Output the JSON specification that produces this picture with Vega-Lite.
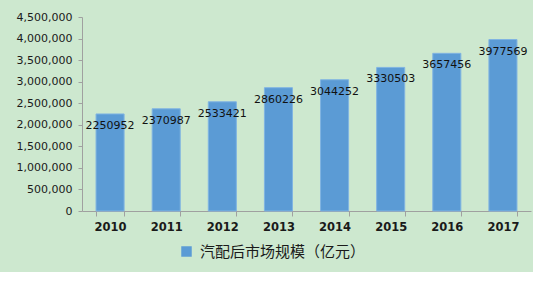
{
  "$schema": "https://vega.github.io/schema/vega-lite/v6.json",
  "autosize": {"type": "none"},
  "width": 449,
  "height": 194,
  "padding": {"left": 82, "top": 17, "right": 2, "bottom": 61},
  "background": "#CDE8CF",
  "config": {
    "view": {"stroke": null},
    "font": "DejaVu Sans"
  },
  "data": {
    "values": [
      {"year": "2010", "value": 2250952, "series": "汽配后市场规模（亿元）"},
      {"year": "2011", "value": 2370987, "series": "汽配后市场规模（亿元）"},
      {"year": "2012", "value": 2533421, "series": "汽配后市场规模（亿元）"},
      {"year": "2013", "value": 2860226, "series": "汽配后市场规模（亿元）"},
      {"year": "2014", "value": 3044252, "series": "汽配后市场规模（亿元）"},
      {"year": "2015", "value": 3330503, "series": "汽配后市场规模（亿元）"},
      {"year": "2016", "value": 3657456, "series": "汽配后市场规模（亿元）"},
      {"year": "2017", "value": 3977569, "series": "汽配后市场规模（亿元）"}
    ]
  },
  "encoding": {
    "x": {
      "field": "year", "type": "ordinal",
      "scale": {"paddingInner": 0.5, "paddingOuter": 0.25},
      "axis": {
        "title": null, "labelAngle": 0, "tickBand": "extent",
        "domainColor": "#A0A0A0", "tickColor": "#A0A0A0", "tickSize": 5,
        "labelFont": "DejaVu Sans", "labelFontWeight": "bold", "labelFontSize": 11.5,
        "labelColor": "#1a1a1a", "labelPadding": 5
      }
    },
    "y": {
      "field": "value", "type": "quantitative",
      "scale": {"domain": [0, 4500000], "nice": false},
      "axis": {
        "title": null, "grid": false,
        "labelExpr": "format(datum.value, ',')",
        "values": [0, 500000, 1000000, 1500000, 2000000, 2500000, 3000000, 3500000, 4000000, 4500000],
        "domainColor": "#A0A0A0", "tickColor": "#A0A0A0", "tickSize": 4,
        "labelFontSize": 11, "labelColor": "#1a1a1a", "labelPadding": 6
      }
    }
  },
  "layer": [
    {
      "mark": {"type": "bar", "color": "#5B9BD5", "stroke": "#80B4E2", "strokeWidth": 1},
      "encoding": {
        "color": {
          "field": "series", "type": "nominal",
          "scale": {"range": ["#5B9BD5"]},
          "legend": {
            "title": null, "orient": "none", "legendX": 97, "legendY": 227,
            "symbolType": "square", "symbolSize": 110, "symbolStrokeWidth": 0,
            "labelFont": "Noto Sans CJK SC", "labelFontSize": 15, "labelColor": "#1a1a1a",
            "labelOffset": 6, "labelLimit": 400
          }
        }
      }
    },
    {
      "mark": {"type": "text", "baseline": "middle", "dy": 12, "fontSize": 11, "color": "#111111"},
      "encoding": {"text": {"field": "value", "type": "quantitative", "format": "d"}}
    }
  ]
}
